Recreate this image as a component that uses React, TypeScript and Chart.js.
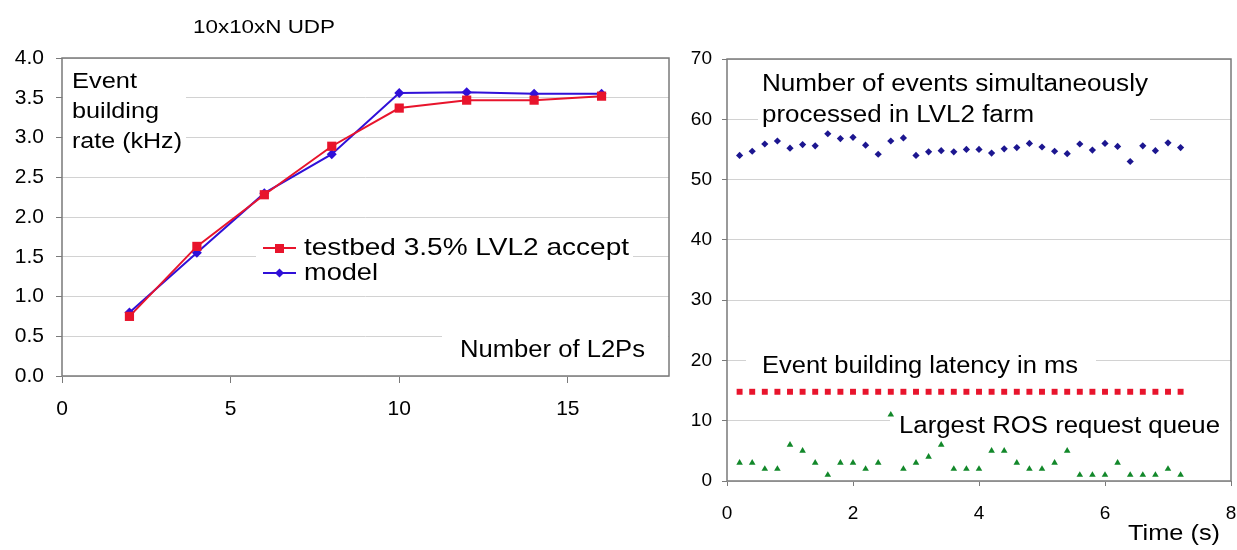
import React, { useEffect, useRef } from "react";
import { Chart, registerables } from "chart.js";

Chart.register(...registerables);

// ---------- Left chart data ----------
const l2ps = [2, 4, 6, 8, 10, 12, 14, 16];
const testbedRate = [0.75, 1.63, 2.28, 2.89, 3.37, 3.47, 3.47, 3.52];
const modelRate = [0.8, 1.55, 2.3, 2.79, 3.56, 3.57, 3.55, 3.55];
const leftTitle = "10x10xN UDP";
const leftYLabel = ["Event", "building", "rate (kHz)"];
const leftXLabel = "Number of L2Ps";
const testbedName = "testbed 3.5% LVL2 accept";
const modelName = "model";

// ---------- Right chart data ----------
const timeS = [
  0.2, 0.4, 0.6, 0.8, 1.0, 1.2, 1.4, 1.6, 1.8, 2.0, 2.2, 2.4, 2.6, 2.8, 3.0, 3.2, 3.4, 3.6,
  3.8, 4.0, 4.2, 4.4, 4.6, 4.8, 5.0, 5.2, 5.4, 5.6, 5.8, 6.0, 6.2, 6.4, 6.6, 6.8, 7.0, 7.2,
];
const eventsInFarm = [
  54.0, 54.7, 55.9, 56.4, 55.2, 55.8, 55.6, 57.6, 56.8, 57.0, 55.7, 54.2, 56.4, 56.9, 54.0, 54.6,
  54.8, 54.6, 55.0, 55.0, 54.4, 55.1, 55.3, 56.0, 55.4, 54.7, 54.3, 55.9, 54.9, 56.0, 55.5, 53.0,
  55.6, 54.8, 56.1, 55.3,
];
const latencyMs = [
  14.8, 14.8, 14.8, 14.8, 14.8, 14.8, 14.8, 14.8, 14.8, 14.8, 14.8, 14.8, 14.8, 14.8, 14.8, 14.8,
  14.8, 14.8, 14.8, 14.8, 14.8, 14.8, 14.8, 14.8, 14.8, 14.8, 14.8, 14.8, 14.8, 14.8, 14.8, 14.8,
  14.8, 14.8, 14.8, 14.8,
];
const rosQueue = [
  3, 3, 2, 2, 6, 5, 3, 1, 3, 3, 2, 3, 11, 2, 3, 4, 6, 2, 2, 2, 5, 5, 3, 2, 2, 3, 5, 1, 1, 1, 3, 1,
  1, 1, 2, 1,
];
const rightLabels = [
  "Number of events simultaneously",
  "processed in LVL2 farm",
  "Event building latency in ms",
  "Largest ROS request queue",
];
const rightXLabel = "Time (s)";

const FONT = '"Liberation Sans", Arial, sans-serif';
const RED = "#e8142c";
const BLUE = "#3010d8";
const NAVY = "#1c1690";
const GREEN = "#12882a";
const GRID = "#d2d2d2";
const AXIS = "#7a7a7a";

function drawText(
  ctx: CanvasRenderingContext2D,
  text: string,
  x: number,
  y: number,
  size: number,
  targetW?: number
) {
  ctx.save();
  ctx.font = `${size}px ${FONT}`;
  const w = ctx.measureText(text).width;
  const sx = targetW ? targetW / w : 1;
  ctx.translate(x, y);
  ctx.scale(sx, 1);
  ctx.textBaseline = "middle";
  ctx.textAlign = "left";
  ctx.fillStyle = "#000";
  ctx.fillText(text, 0, 0);
  ctx.restore();
}

function whiteBox(ctx: CanvasRenderingContext2D, x0: number, y0: number, x1: number, y1: number) {
  ctx.save();
  ctx.fillStyle = "#fff";
  ctx.fillRect(x0, y0, x1 - x0, y1 - y0);
  ctx.restore();
}

function frame(chart: any) {
  const { ctx, chartArea: a } = chart;
  ctx.save();
  ctx.strokeStyle = AXIS;
  ctx.lineWidth = 1.5;
  ctx.strokeRect(a.left, a.top, a.right - a.left, a.bottom - a.top);
  ctx.restore();
}

const leftPlugin = {
  id: "leftDecor",
  beforeDatasetsDraw(chart: any) {
    const ctx = chart.ctx as CanvasRenderingContext2D;
    const a = chart.chartArea;
    whiteBox(ctx, a.left + 1, 65, 186, 158);
    whiteBox(ctx, 256, 236, 633, 285);
    whiteBox(ctx, 442, 330, a.right - 1, 368);
    frame(chart);
    drawText(ctx, leftTitle, 193, 28, 18, 142);
    drawText(ctx, leftYLabel[0], 72, 82, 22, 65);
    drawText(ctx, leftYLabel[1], 72, 112, 22, 87);
    drawText(ctx, leftYLabel[2], 72, 142, 22, 110);
    drawText(ctx, leftXLabel, 460, 351, 23, 185);
    // legend
    ctx.save();
    ctx.lineWidth = 2;
    ctx.strokeStyle = RED;
    ctx.beginPath();
    ctx.moveTo(263, 248);
    ctx.lineTo(296, 248);
    ctx.stroke();
    ctx.fillStyle = RED;
    ctx.fillRect(275, 244, 9, 9);
    ctx.strokeStyle = BLUE;
    ctx.beginPath();
    ctx.moveTo(263, 273);
    ctx.lineTo(296, 273);
    ctx.stroke();
    ctx.fillStyle = BLUE;
    ctx.beginPath();
    ctx.moveTo(279.5, 268.5);
    ctx.lineTo(284, 273);
    ctx.lineTo(279.5, 277.5);
    ctx.lineTo(275, 273);
    ctx.closePath();
    ctx.fill();
    ctx.restore();
    drawText(ctx, testbedName, 304, 248, 24, 325);
    drawText(ctx, modelName, 304, 273, 24, 74);
  },
};

const rightPlugin = {
  id: "rightDecor",
  beforeDatasetsDraw(chart: any) {
    const ctx = chart.ctx as CanvasRenderingContext2D;
    const a = chart.chartArea;
    whiteBox(ctx, 68, 70, 460, 130);
    whiteBox(ctx, 56, 352, 406, 380);
    whiteBox(ctx, 200, 412, a.right - 1, 442);
    frame(chart);
    drawText(ctx, rightLabels[0], 72, 85, 23, 386);
    drawText(ctx, rightLabels[1], 72, 116, 23, 272);
    drawText(ctx, rightLabels[2], 72, 367, 23, 316);
    drawText(ctx, rightLabels[3], 209, 427, 23, 321);
    drawText(ctx, rightXLabel, 438, 534, 22, 92);
  },
};

function LeftChart() {
  const ref = useRef<HTMLCanvasElement>(null);
  useEffect(() => {
    const chart = new Chart(ref.current!, {
      type: "line",
      data: {
        datasets: [
          {
            label: testbedName,
            data: l2ps.map((x, i) => ({ x, y: testbedRate[i] })),
            borderColor: RED,
            backgroundColor: RED,
            borderWidth: 2,
            pointStyle: "rect",
            pointRadius: 6.5,
            pointBorderWidth: 0,
          },
          {
            label: modelName,
            data: l2ps.map((x, i) => ({ x, y: modelRate[i] })),
            borderColor: BLUE,
            backgroundColor: BLUE,
            borderWidth: 2,
            pointStyle: "rectRot",
            pointRadius: 5,
            pointBorderWidth: 0,
          },
        ],
      },
      options: {
        animation: false,
        responsive: false,
        maintainAspectRatio: false,
        layout: { padding: { left: 0, top: 58, right: 21, bottom: 0 } },
        plugins: { legend: { display: false }, tooltip: { enabled: false } },
        scales: {
          x: {
            type: "linear",
            min: 0,
            max: 18,
            border: { display: false },
            grid: { drawOnChartArea: false, drawTicks: true, tickLength: 7, tickColor: AXIS },
            ticks: {
              stepSize: 5,
              includeBounds: false,
              padding: 14,
              color: "#000",
              font: { family: FONT, size: 21 },
              maxRotation: 0,
            },
            afterFit: (s: any) => {
              s.height = 64;
              s.paddingLeft = 0;
              s.paddingRight = 0;
            },
          },
          y: {
            min: 0,
            max: 4,
            border: { display: false },
            grid: { color: GRID, lineWidth: 1, tickLength: 6, tickColor: AXIS },
            ticks: {
              stepSize: 0.5,
              padding: 12,
              color: "#000",
              font: { family: FONT, size: 21 },
              callback: (v: any) => Number(v).toFixed(1),
            },
            afterFit: (s: any) => {
              s.width = 62;
              s.paddingTop = 0;
              s.paddingBottom = 0;
            },
          },
        },
      },
      plugins: [leftPlugin],
    } as any);
    return () => chart.destroy();
  }, []);
  return (
    <canvas
      ref={ref}
      width={690}
      height={440}
      style={{ position: "absolute", left: 0, top: 0, width: 690, height: 440 }}
    />
  );
}

function RightChart() {
  const ref = useRef<HTMLCanvasElement>(null);
  useEffect(() => {
    const chart = new Chart(ref.current!, {
      type: "scatter",
      data: {
        datasets: [
          {
            label: rightLabels[0],
            data: timeS.map((x, i) => ({ x, y: eventsInFarm[i] })),
            backgroundColor: NAVY,
            borderColor: NAVY,
            pointStyle: "rectRot",
            pointRadius: 3.6,
            pointBorderWidth: 0,
            showLine: false,
          },
          {
            label: rightLabels[2],
            data: timeS.map((x, i) => ({ x, y: latencyMs[i] })),
            backgroundColor: RED,
            borderColor: RED,
            pointStyle: "rect",
            pointRadius: 4.2,
            pointBorderWidth: 0,
            showLine: false,
          },
          {
            label: rightLabels[3],
            data: timeS.map((x, i) => ({ x, y: rosQueue[i] })),
            backgroundColor: GREEN,
            borderColor: GREEN,
            pointStyle: "triangle",
            pointRadius: 3.8,
            pointBorderWidth: 0,
            showLine: false,
          },
        ],
      },
      options: {
        animation: false,
        responsive: false,
        maintainAspectRatio: false,
        layout: { padding: { left: 0, top: 59, right: 6, bottom: 0 } },
        plugins: { legend: { display: false }, tooltip: { enabled: false } },
        scales: {
          x: {
            type: "linear",
            min: 0,
            max: 8,
            border: { display: false },
            grid: { drawOnChartArea: false, drawTicks: true, tickLength: 5, tickColor: AXIS },
            ticks: {
              stepSize: 2,
              padding: 16,
              color: "#000",
              font: { family: FONT, size: 19 },
              maxRotation: 0,
            },
            afterFit: (s: any) => {
              s.height = 69;
              s.paddingLeft = 0;
              s.paddingRight = 0;
            },
          },
          y: {
            min: 0,
            max: 70,
            border: { display: false },
            grid: { color: GRID, lineWidth: 1, tickLength: 5, tickColor: AXIS },
            ticks: {
              stepSize: 10,
              padding: 10,
              color: "#000",
              font: { family: FONT, size: 19 },
            },
            afterFit: (s: any) => {
              s.width = 37;
              s.paddingTop = 0;
              s.paddingBottom = 0;
            },
          },
        },
      },
      plugins: [rightPlugin],
    } as any);
    return () => chart.destroy();
  }, []);
  return (
    <canvas
      ref={ref}
      width={547}
      height={550}
      style={{ position: "absolute", left: 690, top: 0, width: 547, height: 550 }}
    />
  );
}

export default function App() {
  return (
    <div
      style={{
        position: "fixed",
        left: 0,
        top: 0,
        width: 1237,
        height: 550,
        background: "#fff",
        overflow: "hidden",
      }}
    >
      <LeftChart />
      <RightChart />
    </div>
  );
}
